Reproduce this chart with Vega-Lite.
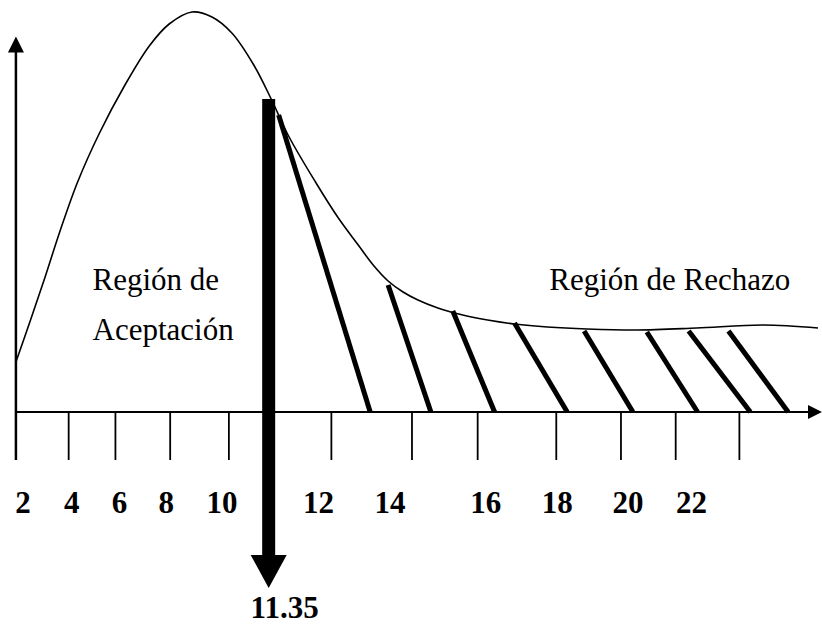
{
  "$schema": "https://vega.github.io/schema/vega-lite/v6.json",
  "width": 822,
  "height": 627,
  "autosize": {"type": "fit", "contains": "padding"},
  "padding": 0,
  "background": "white",
  "config": {"view": {"stroke": null}},
  "datasets": {
    "curve": [
      {"x": 16, "y": 362}, {"x": 30, "y": 322}, {"x": 45, "y": 278}, {"x": 60, "y": 232},
      {"x": 78, "y": 182}, {"x": 100, "y": 133}, {"x": 125, "y": 86}, {"x": 150, "y": 46},
      {"x": 170, "y": 24}, {"x": 193, "y": 12}, {"x": 213, "y": 17}, {"x": 233, "y": 33},
      {"x": 255, "y": 65}, {"x": 273, "y": 100}, {"x": 290, "y": 136}, {"x": 317, "y": 182},
      {"x": 340, "y": 218}, {"x": 360, "y": 245}, {"x": 375, "y": 265}, {"x": 390, "y": 281},
      {"x": 405, "y": 292}, {"x": 420, "y": 300}, {"x": 440, "y": 308}, {"x": 465, "y": 315},
      {"x": 490, "y": 320}, {"x": 517, "y": 324}, {"x": 550, "y": 327}, {"x": 590, "y": 329},
      {"x": 640, "y": 330}, {"x": 700, "y": 328}, {"x": 767, "y": 325}, {"x": 822, "y": 328}
    ],
    "axes": [
      {"x": 16, "y": 412, "x2": 814, "y2": 412, "w": 2},
      {"x": 16, "y": 460, "x2": 16, "y2": 50, "w": 2.5}
    ],
    "ticks": [
      {"x": 69, "y": 412, "y2": 460}, {"x": 116, "y": 412, "y2": 460},
      {"x": 171, "y": 412, "y2": 460}, {"x": 230, "y": 412, "y2": 460},
      {"x": 333, "y": 412, "y2": 460}, {"x": 414, "y": 412, "y2": 460},
      {"x": 480, "y": 412, "y2": 460}, {"x": 559, "y": 412, "y2": 460},
      {"x": 624, "y": 412, "y2": 460}, {"x": 679, "y": 412, "y2": 460},
      {"x": 743, "y": 412, "y2": 460}
    ],
    "hatch": [
      {"x": 280, "y": 115, "x2": 372, "y2": 412},
      {"x": 390, "y": 285, "x2": 433, "y2": 412},
      {"x": 455, "y": 311, "x2": 497, "y2": 412},
      {"x": 517, "y": 323, "x2": 570, "y2": 412},
      {"x": 587, "y": 331, "x2": 636, "y2": 412},
      {"x": 650, "y": 332, "x2": 701, "y2": 412},
      {"x": 692, "y": 331, "x2": 754, "y2": 412},
      {"x": 732, "y": 331, "x2": 792, "y2": 412}
    ],
    "bar": [{"x": 270, "y": 99, "y2": 558}],
    "arrowDown": [{"x": 270, "y": 571.5}],
    "arrowUp": [{"x": 16, "y": 44.5}],
    "arrowRight": [{"x": 819, "y": 412}],
    "nums": [
      {"x": 23, "y": 513, "label": "2"}, {"x": 72, "y": 513, "label": "4"},
      {"x": 120, "y": 513, "label": "6"}, {"x": 167, "y": 513, "label": "8"},
      {"x": 223, "y": 513, "label": "10"}, {"x": 320, "y": 513, "label": "12"},
      {"x": 392, "y": 513, "label": "14"}, {"x": 488, "y": 513, "label": "16"},
      {"x": 560, "y": 513, "label": "18"}, {"x": 631, "y": 513, "label": "20"},
      {"x": 695, "y": 513, "label": "22"}, {"x": 286, "y": 618, "label": "11.35"}
    ],
    "regions": [
      {"x": 93, "y": 290, "label": "Región de"},
      {"x": 93, "y": 340, "label": "Aceptación"},
      {"x": 552, "y": 290, "label": "Región de Rechazo"}
    ]
  },
  "encoding": {
    "x": {"field": "x", "type": "quantitative", "axis": null,
          "scale": {"domain": [0, 822], "nice": false, "zero": false}},
    "y": {"field": "y", "type": "quantitative", "axis": null,
          "scale": {"domain": [0, 627], "nice": false, "zero": false, "reverse": true}}
  },
  "layer": [
    {
      "data": {"name": "curve"},
      "mark": {"type": "line", "color": "black", "strokeWidth": 1.6, "interpolate": "catmull-rom"},
      "encoding": {"order": {"field": "x", "type": "quantitative"}}
    },
    {
      "data": {"name": "axes"},
      "mark": {"type": "rule", "color": "black", "strokeCap": "butt"},
      "encoding": {
        "x2": {"field": "x2"},
        "y2": {"field": "y2"},
        "strokeWidth": {"field": "w", "type": "quantitative", "scale": null}
      }
    },
    {
      "data": {"name": "ticks"},
      "mark": {"type": "rule", "color": "black", "strokeWidth": 1.8, "strokeCap": "butt"},
      "encoding": {"y2": {"field": "y2"}}
    },
    {
      "data": {"name": "hatch"},
      "mark": {"type": "rule", "color": "black", "strokeWidth": 5, "strokeCap": "butt"},
      "encoding": {"x2": {"field": "x2"}, "y2": {"field": "y2"}}
    },
    {
      "data": {"name": "bar"},
      "mark": {"type": "rule", "color": "black", "strokeWidth": 13, "strokeCap": "butt"},
      "encoding": {"y2": {"field": "y2"}}
    },
    {
      "data": {"name": "arrowDown"},
      "mark": {"type": "point", "filled": true, "color": "black", "opacity": 1, "strokeWidth": 0,
               "shape": "M-1,-0.917L1,-0.917L0,0.917Z", "size": 1296}
    },
    {
      "data": {"name": "arrowUp"},
      "mark": {"type": "point", "filled": true, "color": "black", "opacity": 1, "strokeWidth": 0,
               "shape": "M0,-1L1,1L-1,1Z", "size": 256}
    },
    {
      "data": {"name": "arrowRight"},
      "mark": {"type": "point", "filled": true, "color": "black", "opacity": 1, "strokeWidth": 0,
               "shape": "M-1,-1L1,0L-1,1Z", "size": 196}
    },
    {
      "data": {"name": "nums"},
      "mark": {"type": "text", "font": "Liberation Serif", "fontSize": 31, "fontWeight": "bold",
               "align": "center", "baseline": "alphabetic", "color": "black"},
      "encoding": {"text": {"field": "label"}}
    },
    {
      "data": {"name": "regions"},
      "mark": {"type": "text", "font": "Liberation Serif", "fontSize": 31,
               "align": "left", "baseline": "alphabetic", "color": "black"},
      "encoding": {"text": {"field": "label"}}
    }
  ]
}
